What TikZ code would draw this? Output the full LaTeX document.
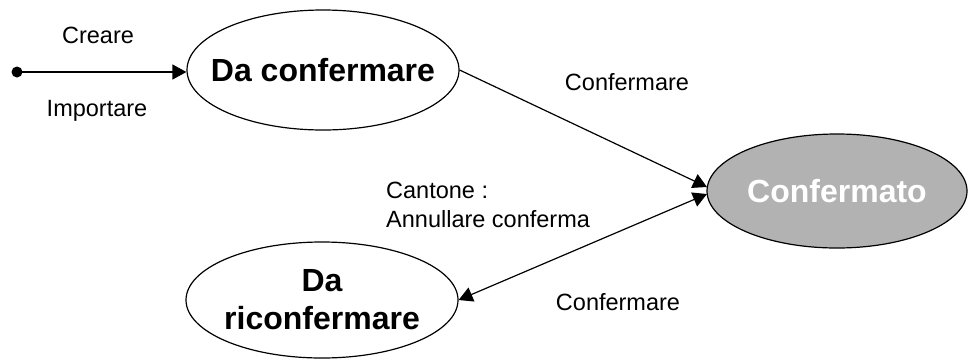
\documentclass[tikz,border=0pt]{standalone}
\usepackage{fontspec}
\setmainfont{Liberation Sans}
\usetikzlibrary{arrows.meta,shapes.geometric}
\begin{document}
\begin{tikzpicture}[x=1pt,y=-1pt,
  state/.style={draw,line width=1.2pt,ellipse,inner sep=0pt},
  stxt/.style={font=\fontsize{32}{38}\bfseries\selectfont,align=center,inner sep=0pt},
  lbl/.style={font=\fontsize{23.5}{29}\selectfont,inner sep=0pt,align=left},
  tip/.style={Triangle[length=14pt,width=15pt]},
  trans/.style={line width=1.2pt,-{Triangle[length=14pt,width=15pt]}},
  both/.style={line width=1.2pt,{Triangle[length=14pt,width=15pt]}-{Triangle[length=14pt,width=15pt]}}]
\useasboundingbox (0,0) rectangle (968,362);
% states: fixed-size ellipses with their names set on top
\node[state,minimum width=272pt,minimum height=120pt] (dc) at (323,70) {};
\node[state,minimum width=260pt,minimum height=114pt,fill={rgb,255:red,178;green,178;blue,178}] (ok) at (837,191) {};
\node[state,minimum width=272pt,minimum height=116pt] (rc) at (322,300) {};
\node[stxt] (dct) at (dc.center) {Da confermare};
\node[stxt,text=white] (okt) at (ok.center) {Confermato};
\node[stxt] (rct) at (rc.center) {Da\\riconfermare};
% initial pseudo-state
\fill (17,72) circle (5.5pt) coordinate (init);
\coordinate (okin) at (707,187);
\coordinate (okout) at (707,194);
% transitions
\draw[trans] (init) -- (dc.west |- init);
\draw[trans] (dc.east) -- (okin);
\draw[both] (okout) -- (rc.east);
% labels
\node[lbl] (l1) at (98,35) {Creare};
\node[lbl] (l2) at (97,111) {Importare};
\node[lbl] (l3) at (627,82) {Confermare};
\node[lbl,anchor=west] (l4) at (386,205) {Cantone :\\Annullare conferma};
\node[lbl] (l5) at (618,302) {Confermare};
\end{tikzpicture}
\end{document}
